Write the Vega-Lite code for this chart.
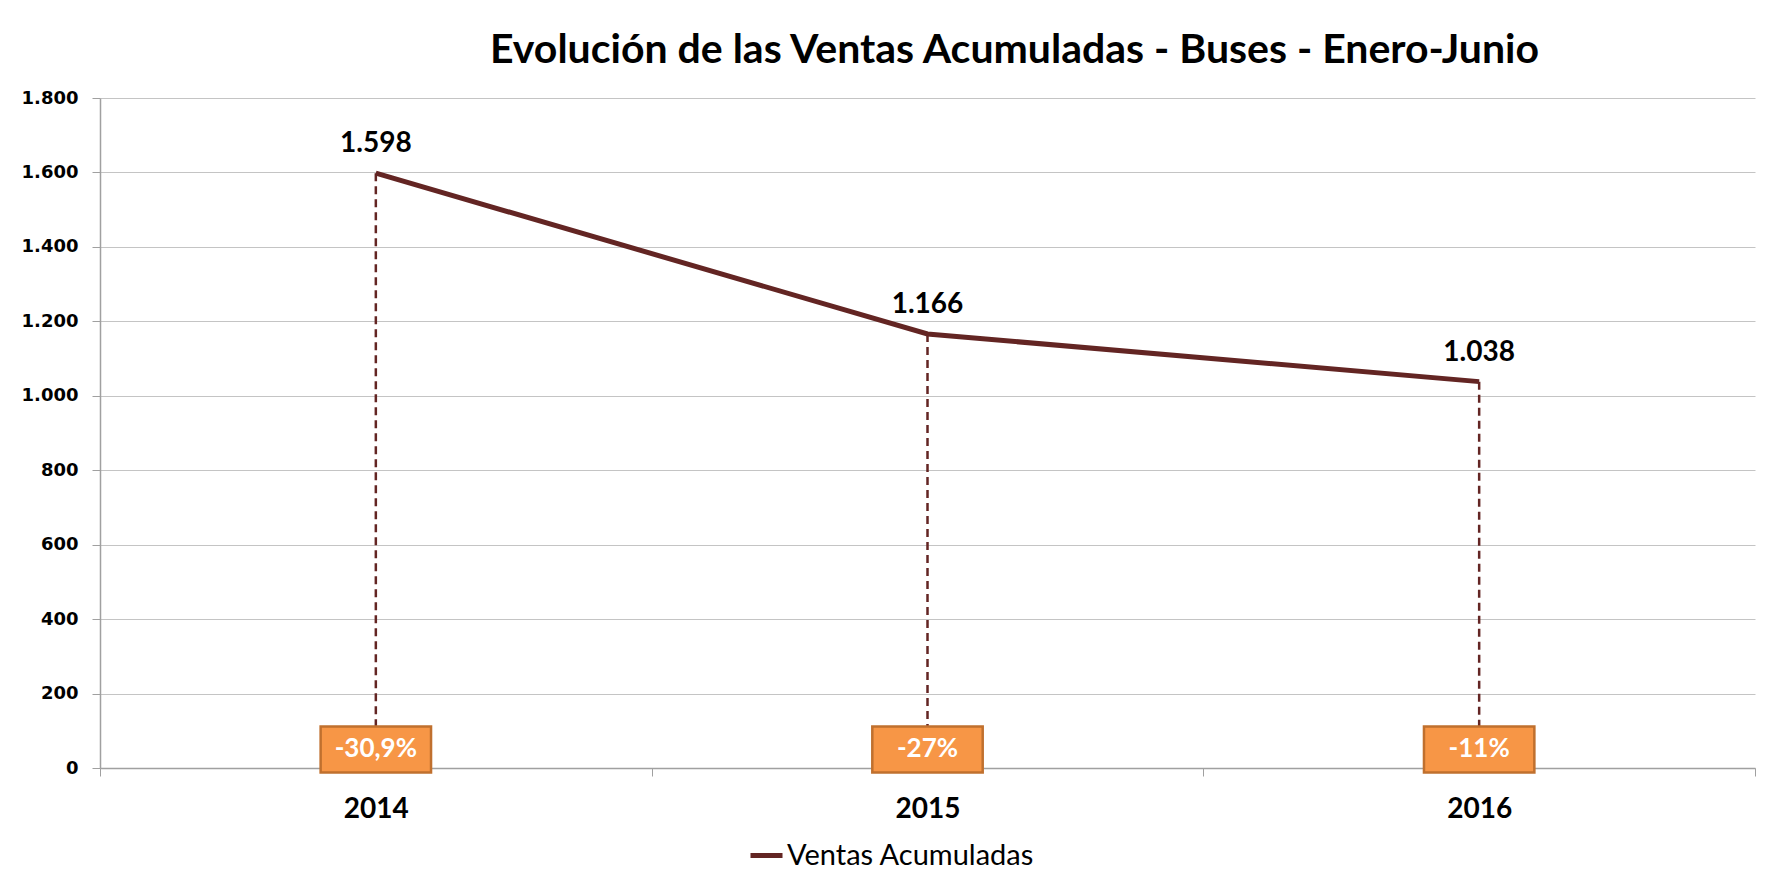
{
  "$schema": "https://vega.github.io/schema/vega-lite/v6.json",
  "width": 1655,
  "height": 670,
  "autosize": {"type": "none"},
  "padding": {"left": 100, "top": 98, "right": 18, "bottom": 116},
  "background": "white",
  "config": {
    "locale": {"number": {"decimal": ",", "thousands": ".", "grouping": [3], "currency": ["", " €"]}},
    "view": {"stroke": null},
    "font": "Lato"
  },
  "title": {
    "text": "Evolución de las Ventas Acumuladas - Buses  - Enero-Junio",
    "font": "Lato", "fontSize": 41, "fontWeight": "bold", "color": "black",
    "anchor": "middle", "frame": "group", "dx": 87, "offset": 17
  },
  "data": {"values": [
    {"year": "2014", "ventas": 1598, "serie": "Ventas Acumuladas", "variacion": "-30,9%"},
    {"year": "2015", "ventas": 1166, "serie": "Ventas Acumuladas", "variacion": "-27%"},
    {"year": "2016", "ventas": 1038, "serie": "Ventas Acumuladas", "variacion": "-11%"}
  ]},
  "encoding": {
    "x": {
      "field": "year", "type": "ordinal",
      "scale": {"paddingInner": 0, "paddingOuter": 0},
      "axis": {
        "title": null, "labelAngle": 0, "tickBand": "extent", "tickSize": 8,
        "tickColor": "#a0a0a0", "domainColor": "#a0a0a0", "domainWidth": 1.5,
        "labelFont": "Lato", "labelFontWeight": "bold", "labelFontSize": 28,
        "labelColor": "black", "labelPadding": 19, "grid": false
      }
    }
  },
  "layer": [
    {
      "mark": {"type": "rule", "strokeDash": [8, 5], "color": "#632523", "strokeWidth": 2.5},
      "encoding": {
        "y": {
          "field": "ventas", "type": "quantitative",
          "scale": {"domain": [0, 1800], "nice": false},
          "axis": {
            "title": null, "values": [0, 200, 400, 600, 800, 1000, 1200, 1400, 1600, 1800],
            "format": ",.0f", "grid": true, "gridColor": "#c4c4c4", "gridWidth": 1,
            "tickSize": 8, "tickColor": "#a0a0a0", "domainColor": "#a0a0a0", "domainWidth": 1.5,
            "labelFont": "DejaVu Sans", "labelFontWeight": "bold", "labelFontSize": 18,
            "labelColor": "black", "labelPadding": 14
          }
        },
        "y2": {"datum": 0}
      }
    },
    {
      "mark": {"type": "line", "strokeWidth": 5},
      "encoding": {
        "y": {"field": "ventas", "type": "quantitative"},
        "color": {
          "field": "serie", "type": "nominal",
          "scale": {"range": ["#632523"]},
          "legend": {
            "title": null, "orient": "none", "legendX": 648, "legendY": 739,
            "padding": 0, "symbolType": "stroke", "symbolStrokeWidth": 5, "symbolSize": 1024,
            "labelFont": "Lato", "labelFontSize": 29, "labelColor": "black", "labelOffset": 2,
            "labelLimit": 500
          }
        }
      }
    },
    {
      "mark": {"type": "text", "dy": -29, "fontSize": 28, "fontWeight": "bold", "font": "Lato", "color": "black"},
      "encoding": {
        "y": {"field": "ventas", "type": "quantitative"},
        "text": {"field": "ventas", "type": "quantitative", "format": ",.0f"}
      }
    },
    {
      "mark": {"type": "point", "shape": "M-1.2,-0.5H1.2V0.5H-1.2Z", "size": 8464, "filled": true, "fill": "#F79646", "stroke": "#C0702E", "strokeWidth": 2.5, "opacity": 1},
      "encoding": {"y": {"datum": 50}}
    },
    {
      "mark": {"type": "text", "color": "white", "fontSize": 26, "fontWeight": "bold", "font": "Lato"},
      "encoding": {"y": {"datum": 50}, "text": {"field": "variacion", "type": "nominal"}}
    }
  ]
}
